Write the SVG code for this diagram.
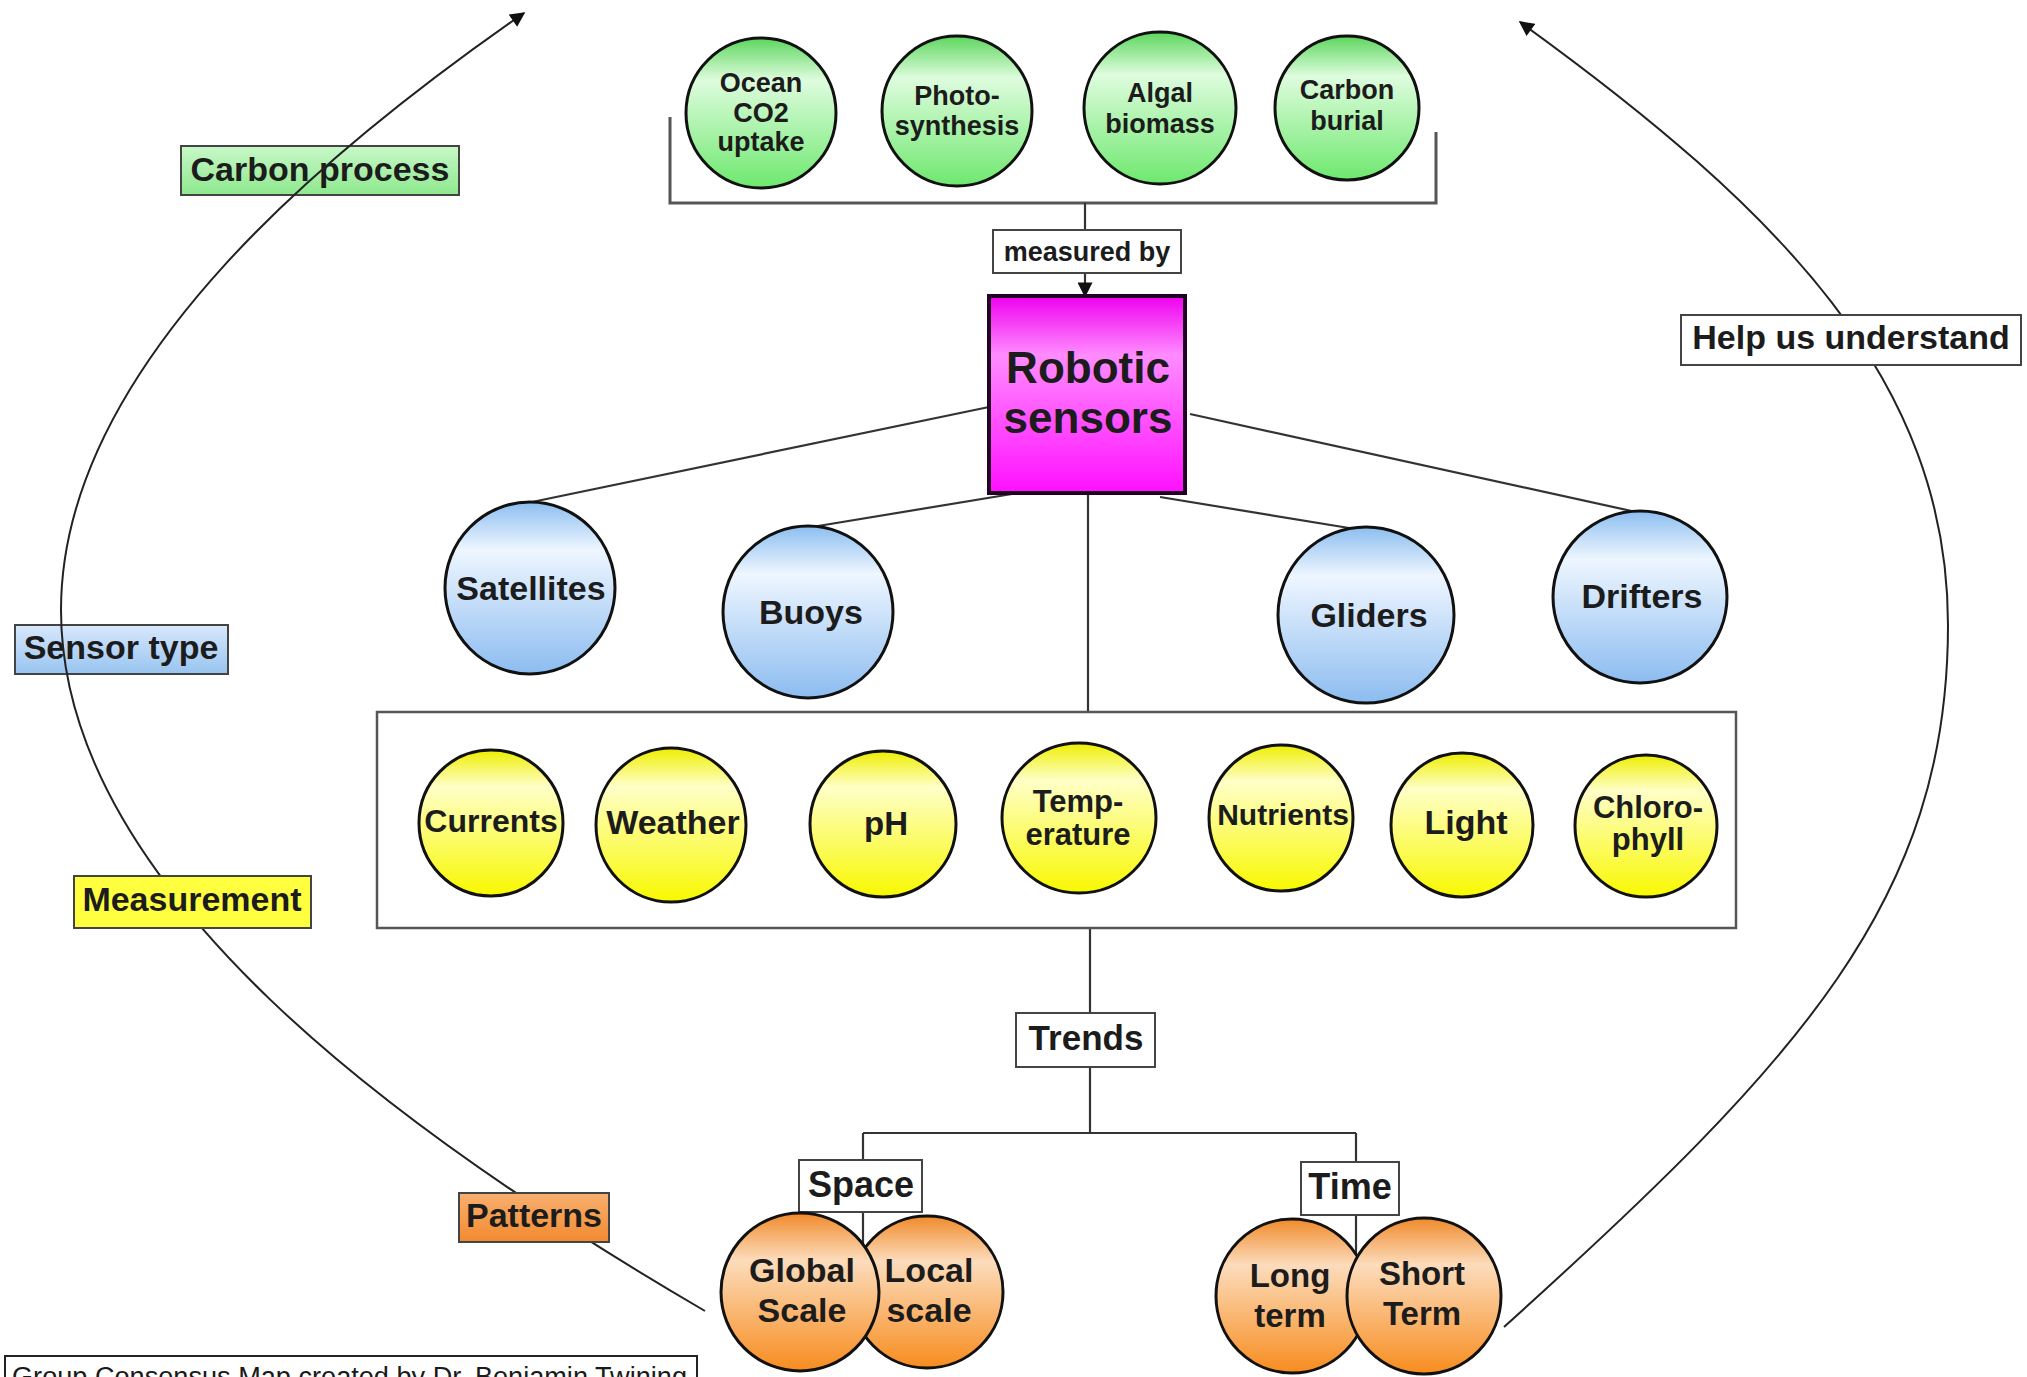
<svg xmlns="http://www.w3.org/2000/svg" width="2027" height="1377" viewBox="0 0 2027 1377">
<defs>
  <linearGradient id="gGreen" x1="0" y1="0" x2="0" y2="1">
    <stop offset="0" stop-color="#5cd65c"/>
    <stop offset="0.28" stop-color="#defcde"/>
    <stop offset="1" stop-color="#6ee86e"/>
  </linearGradient>
  <linearGradient id="gBlue" x1="0" y1="0" x2="0" y2="1">
    <stop offset="0" stop-color="#8cbef0"/>
    <stop offset="0.28" stop-color="#eef6ff"/>
    <stop offset="1" stop-color="#8cbcf0"/>
  </linearGradient>
  <linearGradient id="gYellow" x1="0" y1="0" x2="0" y2="1">
    <stop offset="0" stop-color="#eeee00"/>
    <stop offset="0.25" stop-color="#ffffc8"/>
    <stop offset="1" stop-color="#f8f800"/>
  </linearGradient>
  <linearGradient id="gOrange" x1="0" y1="0" x2="0" y2="1">
    <stop offset="0" stop-color="#f08a2a"/>
    <stop offset="0.3" stop-color="#fcdcbc"/>
    <stop offset="1" stop-color="#f78c1e"/>
  </linearGradient>
  <linearGradient id="gMagenta" x1="0" y1="0" x2="0" y2="1">
    <stop offset="0" stop-color="#ee00ee"/>
    <stop offset="0.3" stop-color="#ff8cff"/>
    <stop offset="1" stop-color="#ff10ff"/>
  </linearGradient>
  <linearGradient id="gLblGreen" x1="0" y1="0" x2="0" y2="1">
    <stop offset="0" stop-color="#c8f8c8"/>
    <stop offset="1" stop-color="#8ee88e"/>
  </linearGradient>
  <linearGradient id="gLblBlue" x1="0" y1="0" x2="0" y2="1">
    <stop offset="0" stop-color="#d8e8fc"/>
    <stop offset="1" stop-color="#98c4f0"/>
  </linearGradient>
  <linearGradient id="gLblOrange" x1="0" y1="0" x2="0" y2="1">
    <stop offset="0" stop-color="#f8b070"/>
    <stop offset="1" stop-color="#f28a30"/>
  </linearGradient>
  <marker id="arrow" viewBox="0 0 10 10" refX="9" refY="5" markerWidth="16" markerHeight="15" markerUnits="userSpaceOnUse" orient="auto">
    <path d="M0,0 L10,5 L0,10 z" fill="#111"/>
  </marker>
  <style>
    .c { stroke:#111; stroke-width:3; }
    .t { font-family:'Liberation Sans', Arial, Helvetica, sans-serif; font-weight:bold; fill:#1c1c1c; text-anchor:middle; }
    .ln { fill:none; stroke:#333; stroke-width:2.2; }
    .br { fill:none; stroke:#555; stroke-width:3; }
    .curve { fill:none; stroke:#222; stroke-width:2; }
    .wbox { fill:#fff; stroke:#444; stroke-width:2; }
    .lbl { stroke:#444; stroke-width:2; }
    .s27 { font-size:27px; }
    .s31 { font-size:31px; }
    .s33 { font-size:33px; }
    .s34 { font-size:34px; }
    .s36 { font-size:36px; }
  </style>
</defs>
<rect width="2027" height="1377" fill="#fff"/>

<!-- labels beneath the curves -->
<g id="label-carbon-process">
  <rect class="lbl" x="181" y="146" width="278" height="49" fill="url(#gLblGreen)"/>
  <text class="t s34" x="320" y="181">Carbon process</text>
</g>
<g id="label-sensor-type">
  <rect class="lbl" x="15" y="625" width="213" height="49" fill="url(#gLblBlue)"/>
  <text class="t s34" x="121" y="659">Sensor type</text>
</g>

<g id="connectors">
  <path class="br" d="M670,117 V203 H1436 V132"/>
  <path class="ln" d="M1085,203 V230"/>
  <path class="ln" d="M1085,273 V296" marker-end="url(#arrow)"/>
  <path class="ln" d="M989,407 L532,502"/>
  <path class="ln" d="M1012,494 L812,527"/>
  <path class="ln" d="M1160,497 L1349,528"/>
  <path class="ln" d="M1190,414 L1636,512"/>
  <path class="ln" d="M1088,494 V712"/>
  <path class="ln" d="M1090,928 V1013"/>
  <path class="ln" d="M1090,1067 V1133"/>
  <path class="ln" d="M863,1133 H1356"/>
  <path class="ln" d="M863,1133 V1160"/>
  <path class="ln" d="M1356,1133 V1162"/>
  <path class="ln" d="M863,1212 V1262"/>
  <path class="ln" d="M1356,1215 V1262"/>
  <path class="curve" d="M705,1311 C405,1136 61,890 61,610 C61,360 344,138 524,13" marker-end="url(#arrow)"/>
  <path class="curve" d="M1504,1327 C1800,1060 1948,900 1948,625 C1948,380 1780,210 1520,22" marker-end="url(#arrow)"/>
</g>

<!-- carbon processes -->
<g id="node-ocean-co2">
  <ellipse class="c" cx="761" cy="113" rx="75" ry="75" fill="url(#gGreen)"/>
  <text class="t s27" x="761" y="92">Ocean</text>
  <text class="t s27" x="761" y="122">CO2</text>
  <text class="t s27" x="761" y="151">uptake</text>
</g>
<g id="node-photosynthesis">
  <ellipse class="c" cx="957" cy="111" rx="75" ry="75" fill="url(#gGreen)"/>
  <text class="t s27" x="957" y="105">Photo-</text>
  <text class="t s27" x="957" y="135">synthesis</text>
</g>
<g id="node-algal-biomass">
  <ellipse class="c" cx="1160" cy="108" rx="76" ry="76" fill="url(#gGreen)"/>
  <text class="t s27" x="1160" y="102">Algal</text>
  <text class="t s27" x="1160" y="133">biomass</text>
</g>
<g id="node-carbon-burial">
  <ellipse class="c" cx="1347" cy="108" rx="72" ry="72" fill="url(#gGreen)"/>
  <text class="t s27" x="1347" y="99">Carbon</text>
  <text class="t s27" x="1347" y="130">burial</text>
</g>

<g id="node-measured-by">
  <rect class="wbox" x="993" y="230" width="188" height="43"/>
  <text class="t s27" x="1087" y="261">measured by</text>
</g>

<g id="node-robotic-sensors">
  <rect x="989" y="296" width="196" height="197" fill="url(#gMagenta)" stroke="#220022" stroke-width="4"/>
  <text class="t" x="1088" y="383" font-size="44" fill="#2a0a2e">Robotic</text>
  <text class="t" x="1088" y="433" font-size="44" fill="#2a0a2e">sensors</text>
</g>

<!-- sensor types -->
<g id="node-satellites">
  <ellipse class="c" cx="530" cy="588" rx="85" ry="86" fill="url(#gBlue)"/>
  <text class="t s34" x="531" y="600">Satellites</text>
</g>
<g id="node-buoys">
  <ellipse class="c" cx="808" cy="612" rx="85" ry="86" fill="url(#gBlue)"/>
  <text class="t s34" x="811" y="624">Buoys</text>
</g>
<g id="node-gliders">
  <ellipse class="c" cx="1366" cy="615" rx="88" ry="88" fill="url(#gBlue)"/>
  <text class="t s34" x="1369" y="627">Gliders</text>
</g>
<g id="node-drifters">
  <ellipse class="c" cx="1640" cy="597" rx="87" ry="86" fill="url(#gBlue)"/>
  <text class="t s34" x="1642" y="608">Drifters</text>
</g>

<!-- measurements -->
<g id="node-measurements-frame">
  <rect x="377" y="712" width="1359" height="216" fill="#fff" stroke="#555" stroke-width="2.5"/>
</g>
<g id="node-currents">
  <ellipse class="c" cx="491" cy="823" rx="72" ry="73" fill="url(#gYellow)"/>
  <text class="t" x="491" y="832" font-size="32">Currents</text>
</g>
<g id="node-weather">
  <ellipse class="c" cx="671" cy="825" rx="75" ry="77" fill="url(#gYellow)"/>
  <text class="t s34" x="673" y="834">Weather</text>
</g>
<g id="node-ph">
  <ellipse class="c" cx="883" cy="824" rx="73" ry="73" fill="url(#gYellow)"/>
  <text class="t s33" x="886" y="835">pH</text>
</g>
<g id="node-temperature">
  <ellipse class="c" cx="1079" cy="818" rx="77" ry="75" fill="url(#gYellow)"/>
  <text class="t s31" x="1078" y="812">Temp-</text>
  <text class="t s31" x="1078" y="845">erature</text>
</g>
<g id="node-nutrients">
  <ellipse class="c" cx="1281" cy="818" rx="72" ry="73" fill="url(#gYellow)"/>
  <text class="t" x="1283" y="825" font-size="30">Nutrients</text>
</g>
<g id="node-light">
  <ellipse class="c" cx="1462" cy="825" rx="71" ry="72" fill="url(#gYellow)"/>
  <text class="t s34" x="1466" y="834">Light</text>
</g>
<g id="node-chlorophyll">
  <ellipse class="c" cx="1646" cy="826" rx="71" ry="71" fill="url(#gYellow)"/>
  <text class="t s31" x="1648" y="818">Chloro-</text>
  <text class="t s31" x="1648" y="850">phyll</text>
</g>

<g id="node-trends">
  <rect class="wbox" x="1016" y="1013" width="139" height="54"/>
  <text class="t" x="1086" y="1050" font-size="35">Trends</text>
</g>
<g id="node-space">
  <rect class="wbox" x="799" y="1160" width="123" height="52"/>
  <text class="t s36" x="861" y="1197">Space</text>
</g>
<g id="node-time">
  <rect class="wbox" x="1301" y="1162" width="98" height="53"/>
  <text class="t s36" x="1350" y="1199">Time</text>
</g>

<!-- patterns -->
<g id="node-local-scale">
  <ellipse class="c" cx="927" cy="1292" rx="76" ry="76" fill="url(#gOrange)"/>
  <text class="t s34" x="929" y="1282">Local</text>
  <text class="t s34" x="929" y="1322">scale</text>
</g>
<g id="node-global-scale">
  <ellipse class="c" cx="800" cy="1292" rx="79" ry="79" fill="url(#gOrange)"/>
  <text class="t s34" x="802" y="1282">Global</text>
  <text class="t s34" x="802" y="1322">Scale</text>
</g>
<g id="node-long-term">
  <ellipse class="c" cx="1292" cy="1296" rx="76" ry="77" fill="url(#gOrange)"/>
  <text class="t s33" x="1290" y="1287">Long</text>
  <text class="t s33" x="1290" y="1327">term</text>
</g>
<g id="node-short-term">
  <ellipse class="c" cx="1424" cy="1296" rx="77" ry="78" fill="url(#gOrange)"/>
  <text class="t s33" x="1422" y="1285">Short</text>
  <text class="t s33" x="1422" y="1325">Term</text>
</g>

<!-- labels above the curves -->
<g id="label-measurement">
  <rect class="lbl" x="74" y="876" width="237" height="52" fill="#ffff40"/>
  <text class="t s34" x="192" y="911">Measurement</text>
</g>
<g id="label-patterns">
  <rect class="lbl" x="459" y="1193" width="150" height="49" fill="url(#gLblOrange)"/>
  <text class="t s34" x="534" y="1227">Patterns</text>
</g>
<g id="label-help">
  <rect class="lbl" x="1681" y="315" width="340" height="50" fill="#fff"/>
  <text class="t s34" x="1851" y="349">Help us understand</text>
</g>
<g id="footer">
  <rect x="5" y="1356" width="692" height="40" fill="#fff" stroke="#222" stroke-width="2"/>
  <text x="12" y="1386" font-family="'Liberation Sans', Arial, sans-serif" font-size="27" fill="#1a1a1a" textLength="675" lengthAdjust="spacingAndGlyphs">Group Consensus Map created by Dr. Benjamin Twining</text>
</g>
</svg>
